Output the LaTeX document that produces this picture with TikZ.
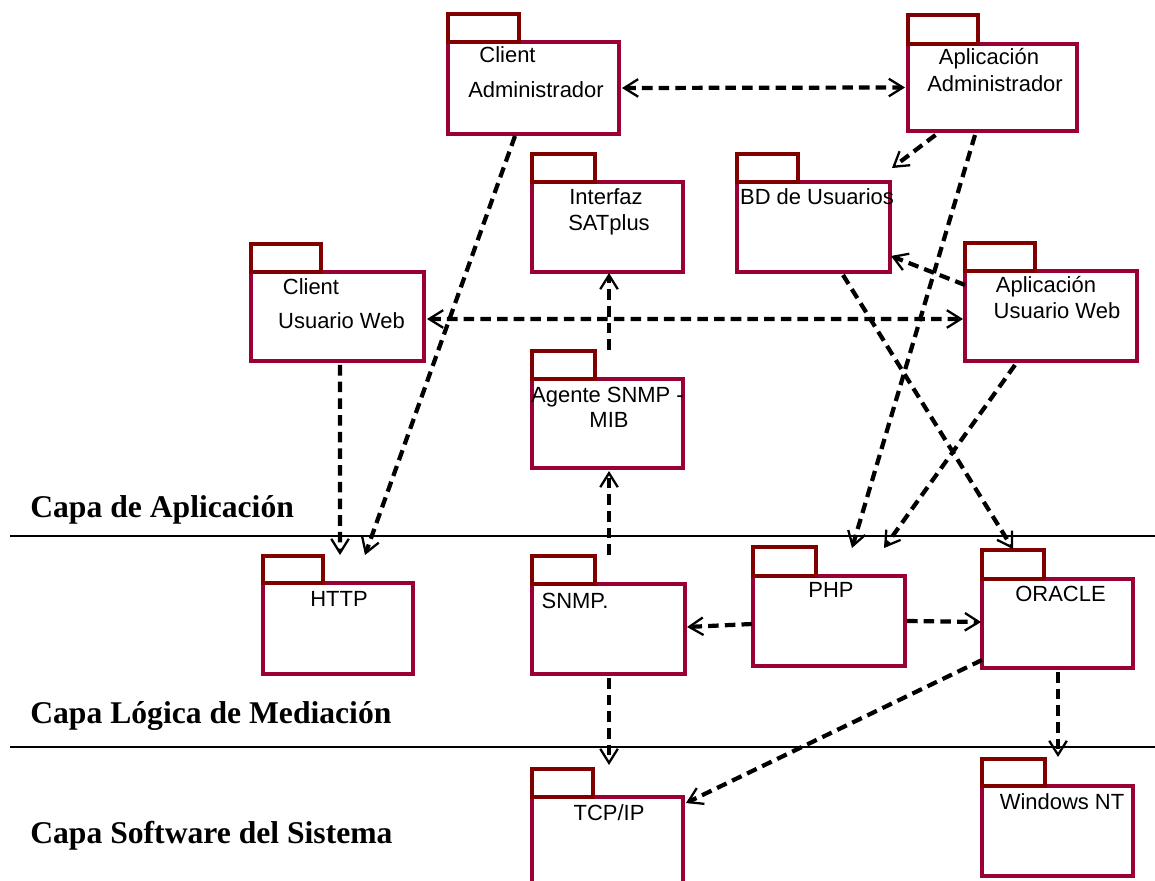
\documentclass[tikz,border=0pt]{standalone}
\usepackage{fontspec}
\setmainfont{Liberation Serif}
\newfontfamily\pkgfont{Liberation Sans}
\usetikzlibrary{arrows.meta}
\definecolor{pkgred}{RGB}{153,0,51}
\definecolor{tabred}{RGB}{128,0,0}

\begin{document}
\begin{tikzpicture}[x=0.02cm,y=-0.02cm]
\tikzstyle{pkg}=[rectangle,draw=pkgred,line width=2pt,fill=white,inner sep=0pt,outer sep=0pt]
\tikzstyle{pkgtab}=[draw=tabred,line width=2pt]
\tikzstyle{pkgname}=[font=\pkgfont\fontsize{12.5}{15}\selectfont,anchor=base,inner sep=0pt]
\tikzstyle{layertext}=[font=\bfseries\fontsize{18}{22}\selectfont,anchor=base west,inner sep=0pt]
\tikzstyle{dep}=[line width=2.4pt,dash pattern=on 6pt off 3.5pt,-{Straight Barb[length=8pt,width=10pt,line width=1.3pt]}]
\tikzstyle{depboth}=[dep,{Straight Barb[length=8pt,width=10pt,line width=1.3pt]}-{Straight Barb[length=8pt,width=10pt,line width=1.3pt]}]
\useasboundingbox (0,0) rectangle (1155,881);

% capas
\draw[line width=0.9pt] (10,536) -- (1155,536);
\draw[line width=0.9pt] (10,747) -- (1155,747);
\node[layertext] (capa1) at (30,517) {Capa de Aplicación};
\node[layertext] (capa2) at (30,723) {Capa Lógica de Mediación};
\node[layertext] (capa3) at (30,843) {Capa Software del Sistema};

% paquetes
\node[pkg,minimum width=3.42cm,minimum height=1.84cm] (cadm) at (533.5,88) {};
\draw[pkgtab] (cadm.north west) rectangle +(71,-28);
\node[pkgname] (cadm1) at (507.5,63) {Client};
\node[pkgname] (cadm2) at (536,98) {Administrador};

\node[pkg,minimum width=3.38cm,minimum height=1.74cm] (aadm) at (992.5,87.5) {};
\draw[pkgtab] (aadm.north west) rectangle +(70,-29);
\node[pkgname] (aadm1) at (989,65) {Aplicación};
\node[pkgname] (aadm2) at (995,92) {Administrador};

\node[pkg,minimum width=3.02cm,minimum height=1.8cm] (isat) at (607.5,227) {};
\draw[pkgtab] (isat.north west) rectangle +(63,-28);
\node[pkgname] (isat1) at (606,205) {Interfaz};
\node[pkgname] (isat2) at (609,231) {SATplus};

\node[pkg,minimum width=3.06cm,minimum height=1.8cm] (bdu) at (813.5,227) {};
\draw[pkgtab] (bdu.north west) rectangle +(61,-28);
\node[pkgname] (bdu1) at (817,205) {BD de Usuarios};

\node[pkg,minimum width=3.46cm,minimum height=1.78cm] (cweb) at (337.5,316.5) {};
\draw[pkgtab] (cweb.north west) rectangle +(70,-28);
\node[pkgname] (cweb1) at (311,295) {Client};
\node[pkgname] (cweb2) at (341.5,329) {Usuario Web};

\node[pkg,minimum width=3.44cm,minimum height=1.8cm] (aweb) at (1051,316) {};
\draw[pkgtab] (aweb.north west) rectangle +(70,-28);
\node[pkgname] (aweb1) at (1046,293) {Aplicación};
\node[pkgname] (aweb2) at (1057,319) {Usuario Web};

\node[pkg,minimum width=3.02cm,minimum height=1.78cm] (agente) at (607.5,423.5) {};
\draw[pkgtab] (agente.north west) rectangle +(63,-28);
\node[pkgname] (agente1) at (607.5,402) {Agente SNMP -};
\node[pkgname] (agente2) at (609,427) {MIB};

\node[pkg,minimum width=3.0cm,minimum height=1.82cm] (http) at (338,628.5) {};
\draw[pkgtab] (http.north west) rectangle +(60,-27);
\node[pkgname] (http1) at (339,606) {HTTP};

\node[pkg,minimum width=3.06cm,minimum height=1.8cm] (snmp) at (608.5,629) {};
\draw[pkgtab] (snmp.north west) rectangle +(63,-28);
\node[pkgname] (snmp1) at (575,608) {SNMP.};

\node[pkg,minimum width=3.04cm,minimum height=1.8cm] (php) at (829,621) {};
\draw[pkgtab] (php.north west) rectangle +(63,-29);
\node[pkgname] (php1) at (831,597) {PHP};

\node[pkg,minimum width=3.02cm,minimum height=1.78cm] (oracle) at (1057.5,623.5) {};
\draw[pkgtab] (oracle.north west) rectangle +(62,-29);
\node[pkgname] (oracle1) at (1060.5,601) {ORACLE};

\node[pkg,minimum width=3.02cm,minimum height=2.06cm] (tcpip) at (607.5,848.5) {};
\draw[pkgtab] (tcpip.north west) rectangle +(61,-28);
\node[pkgname] (tcpip1) at (609,820) {TCP/IP};

\node[pkg,minimum width=3.02cm,minimum height=1.8cm] (winnt) at (1057.5,831) {};
\draw[pkgtab] (winnt.north west) rectangle +(63,-27);
\node[pkgname] (winnt1) at (1062,809) {Windows NT};

% dependencias
\draw[depboth] ([shift={(3,0)}]cadm.east) -- ([shift={(-3,0)}]aadm.west);
\draw[dep] ([shift={(-57,4)}]aadm.south) -- ([shift={(2,-14)}]bdu.north east);
\draw[dep] ([shift={(-17.5,4)}]aadm.south) -- ([shift={(23,-28)}]php.north);
\draw[dep] ([shift={(-18.5,2)}]cadm.south) -- ([shift={(27,-28)}]http.north);
\draw[depboth] ([shift={(3,2.5)}]cweb.east) -- ([shift={(-2,3)}]aweb.west);
\draw[dep] ([shift={(2.5,4)}]cweb.south) -- ([shift={(2,-28)}]http.north);
\draw[dep] ([shift={(1.5,-29)}]agente.north) -- ([shift={(1.5,1)}]isat.south);
\draw[dep] ([shift={(0.5,-29)}]snmp.north) -- ([shift={(1.5,3)}]agente.south);
\draw[dep] ([shift={(-1,3)}]php.west) -- ([shift={(2,-2)}]snmp.east);
\draw[dep] ([shift={(2,0)}]php.east) -- ([shift={(-1,-1.5)}]oracle.west);
\draw[dep] ([shift={(29.5,3)}]bdu.south) -- ([shift={(-44.5,-30)}]oracle.north);
\draw[dep] ([shift={(0,-31)}]aweb.west) -- ([shift={(1,29)}]bdu.east);
\draw[dep] ([shift={(-36,4)}]aweb.south) -- ([shift={(55,-28)}]php.north);
\draw[dep] ([shift={(0.5,4)}]snmp.south) -- ([shift={(1.5,-32)}]tcpip.north);
\draw[dep] ([shift={(0,-8)}]oracle.south west) -- ([shift={(3,6)}]tcpip.north east);
\draw[dep] ([shift={(0.5,4)}]oracle.south) -- ([shift={(0.5,-29)}]winnt.north);
\end{tikzpicture}
\end{document}
